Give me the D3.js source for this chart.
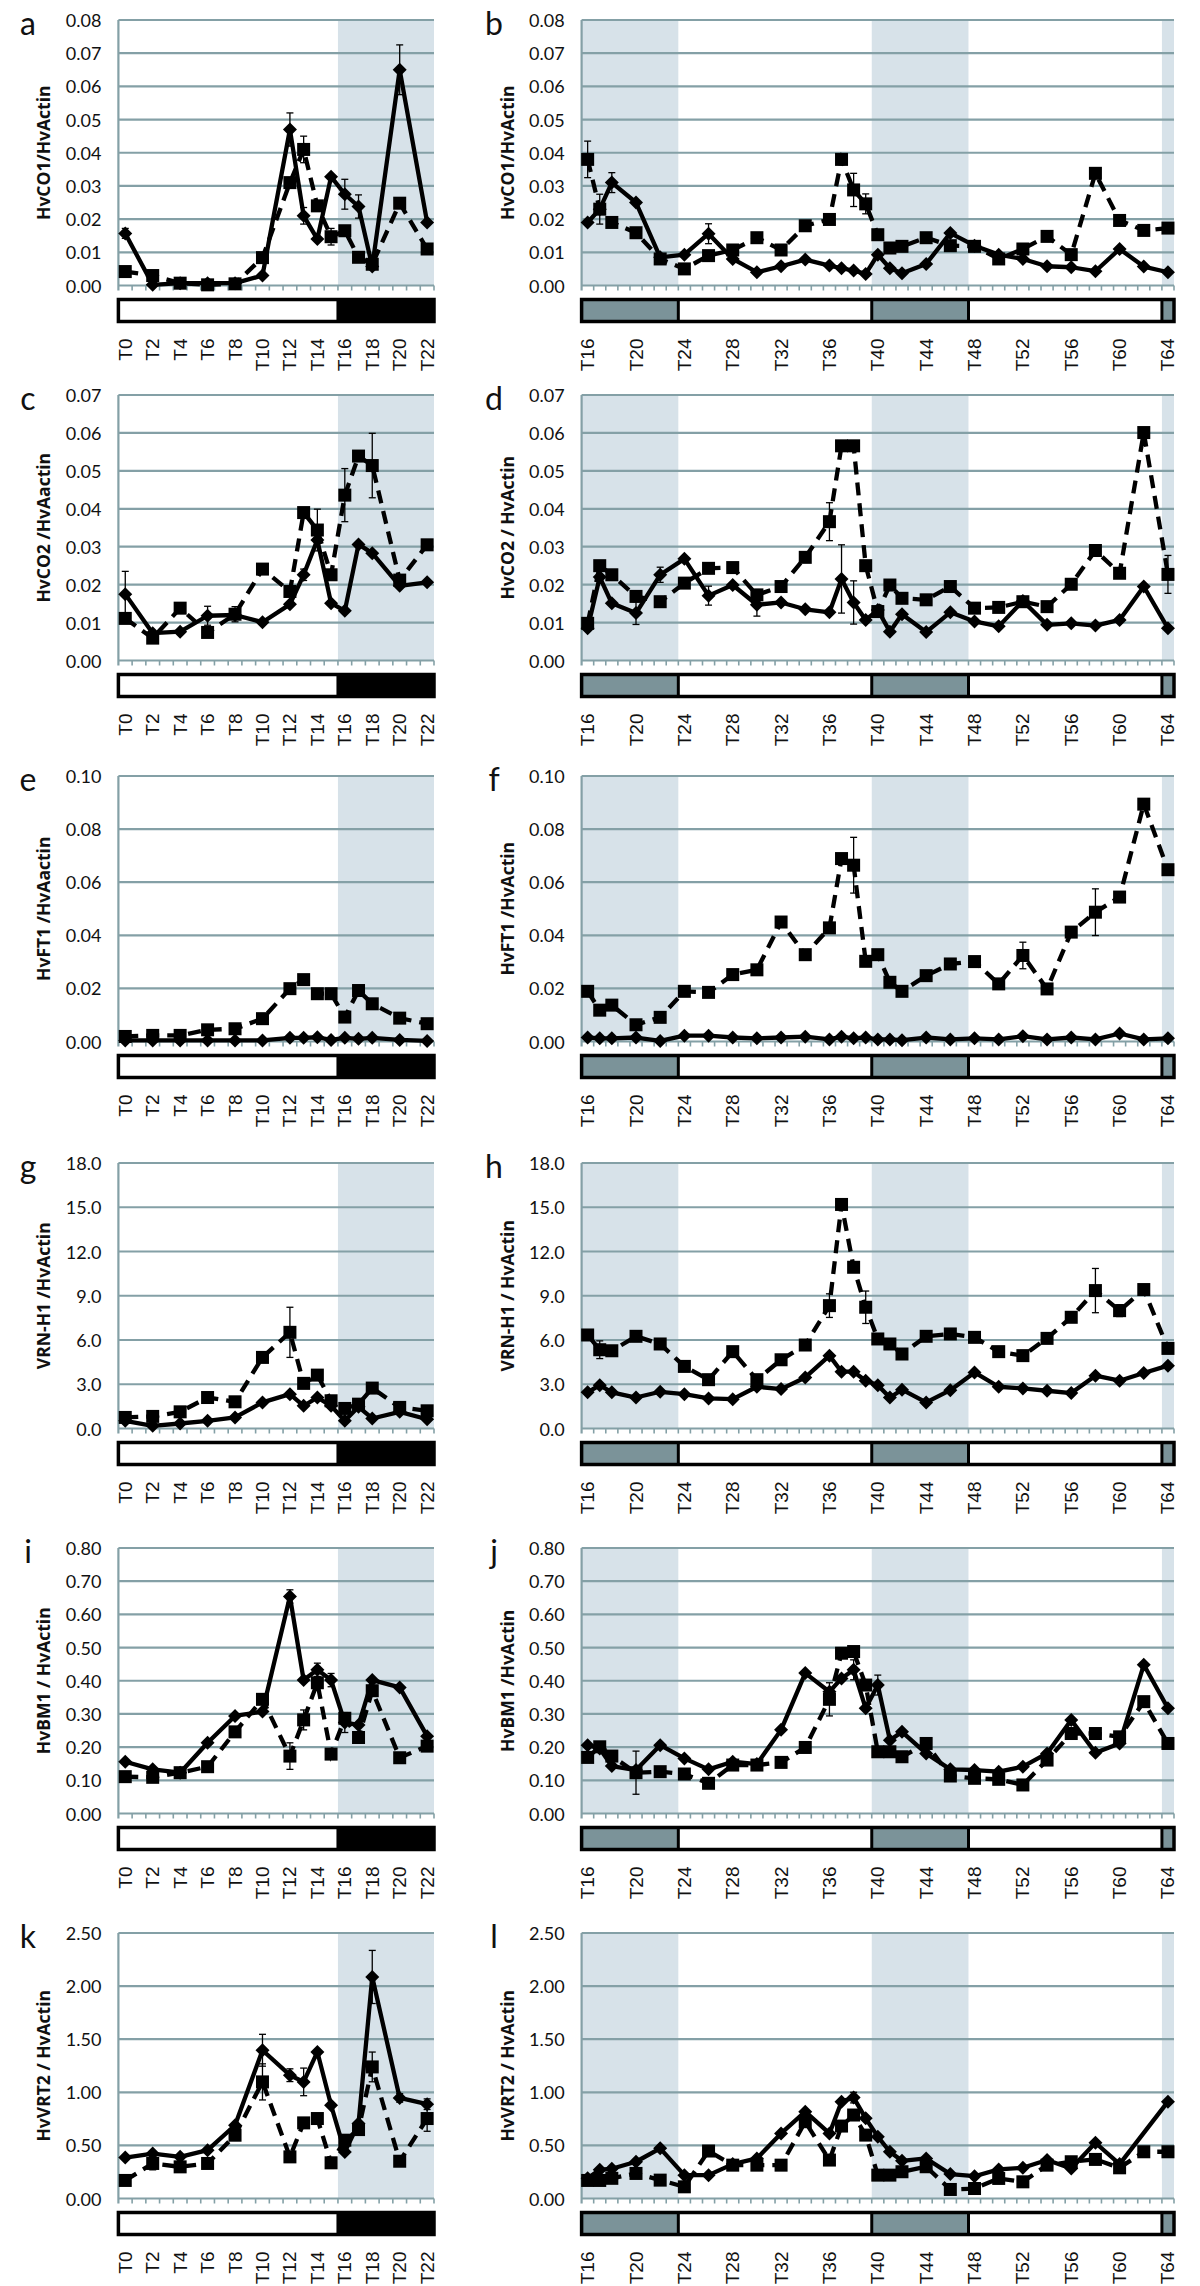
<!DOCTYPE html>
<html><head><meta charset="utf-8">
<script src="https://cdn.jsdelivr.net/npm/d3@7/dist/d3.min.js"></script>
<style>body{margin:0;background:#fff}svg{display:block}</style>
</head><body><svg id="c" width="1200" height="2286"></svg>
<script>
// ---------- DATA ----------
const hoursL = [0,2,4,6,8,10,12,13,14,15,16,17,18,20,22];
const hoursR = [16,17,18,20,22,24,26,28,30,32,34,36,37,38,39,40,41,42,44,46,48,50,52,54,56,58,60,62,64];
const tickLabelsL = ["T0","T2","T4","T6","T8","T10","T12","T14","T16","T18","T20","T22"];
const tickLabelsR = ["T16","T20","T24","T28","T32","T36","T40","T44","T48","T52","T56","T60","T64"];
const darkL = [[15.5,22.5]];
const darkR = [[15.5,23.5],[39.5,47.5],[63.5,64.5]];

const aSolid  = [0.0157,0.0002,0.0007,0.0007,0.0007,0.003,0.047,0.021,0.014,0.0328,0.0275,0.0238,0.0057,0.065,0.019];
const aDashed = [0.0042,0.003,0.0007,0.0002,0.0005,0.0084,0.031,0.041,0.024,0.0147,0.0165,0.0085,0.0064,0.0248,0.011];
const aSolidErr  = [0.0015,null,null,null,null,null,0.005,0.0025,null,null,0.0045,0.0035,null,0.0075,null];
const aDashedErr = [null,null,null,null,null,null,null,0.004,null,0.0025,null,null,null,null,null];

const bSolid  = [0.019,0.023,0.031,0.025,0.0085,0.0093,0.0156,0.008,0.004,0.0058,0.0078,0.006,0.0052,0.0045,0.0035,0.0093,0.0052,0.0037,0.0065,0.0158,0.012,0.0093,0.008,0.0058,0.0055,0.0043,0.011,0.0057,0.004];
const bDashed = [0.038,0.023,0.019,0.0159,0.008,0.005,0.009,0.0107,0.0144,0.0107,0.018,0.0199,0.038,0.0288,0.0246,0.0153,0.0113,0.0118,0.0144,0.012,0.0118,0.008,0.011,0.0148,0.0093,0.0338,0.0196,0.0166,0.0173];
const bSolidErr  = [null,null,0.003,null,null,null,0.003,null,null,null,null,null,null,null,null,null,null,null,null,null,null,null,null,null,null,null,null,null,null];
const bDashedErr = [0.0055,0.0045,null,null,null,null,null,null,null,null,null,null,null,0.005,0.003,null,null,null,null,null,null,null,null,0.0015,null,null,null,null,null];

const cSolid  = [0.0175,0.0072,0.0076,0.0118,0.012,0.0101,0.0148,0.0226,0.0318,0.0151,0.0131,0.0306,0.0283,0.0197,0.0206];
const cDashed = [0.0111,0.0059,0.0138,0.0074,0.0122,0.0241,0.0182,0.039,0.0344,0.0226,0.0436,0.0539,0.0514,0.0212,0.0305];
const cSolidErr  = [0.006,null,null,0.0025,null,null,null,0.0015,null,null,null,null,null,null,null];
const cDashedErr = [null,null,null,null,0.002,null,null,null,0.0055,null,0.007,null,0.0085,null,null];

const dSolid  = [0.0085,0.022,0.0151,0.0125,0.0226,0.0268,0.0171,0.0199,0.0147,0.0153,0.0135,0.0127,0.0215,0.0153,0.0107,0.0133,0.0076,0.0122,0.0075,0.0127,0.0103,0.009,0.0157,0.0094,0.0098,0.0092,0.0107,0.0195,0.0085];
const dDashed = [0.0098,0.025,0.0226,0.0169,0.0155,0.0204,0.0243,0.0245,0.0173,0.0195,0.0272,0.0366,0.0566,0.0566,0.025,0.0129,0.0199,0.0164,0.016,0.0195,0.0138,0.014,0.0155,0.0142,0.0201,0.029,0.023,0.0601,0.0227];
const dSolidErr  = [null,null,null,0.003,0.002,null,0.0025,null,0.003,null,null,null,0.009,0.0057,null,null,null,null,null,null,null,null,null,null,null,null,null,null,null];
const dDashedErr = [null,null,null,null,null,null,null,null,null,null,null,0.005,null,null,null,null,null,null,null,null,null,null,null,null,null,null,null,null,0.005];

const eSolid  = [0.0004,0.0004,0.0004,0.0004,0.0004,0.0004,0.0014,0.0014,0.0016,0.0006,0.0014,0.001,0.0014,0.0006,0.0002];
const eDashed = [0.0019,0.0023,0.0023,0.0044,0.0048,0.0086,0.0199,0.0233,0.018,0.018,0.0092,0.0192,0.0142,0.0088,0.0067];
const eSolidErr  = [null,null,null,null,null,null,null,null,null,null,null,null,null,null,null];
const eDashedErr = [null,null,null,null,null,null,null,null,0.0015,null,null,null,null,null,null];

const fSolid  = [0.0015,0.0012,0.0012,0.0015,0.0002,0.0022,0.0022,0.0015,0.0012,0.0015,0.0018,0.0008,0.0018,0.0012,0.0015,0.0008,0.0008,0.0005,0.0015,0.0008,0.0012,0.0008,0.002,0.0008,0.0015,0.0008,0.003,0.0008,0.0012];
const fDashed = [0.0189,0.0118,0.0137,0.0063,0.0091,0.0189,0.0185,0.0252,0.027,0.045,0.0327,0.0428,0.0689,0.0664,0.0302,0.0327,0.0223,0.0189,0.0248,0.0292,0.0301,0.0217,0.0324,0.0198,0.0412,0.0487,0.0544,0.0894,0.0647];
const fSolidErr  = [null,null,null,null,null,null,null,null,null,null,null,null,null,null,null,null,null,null,null,null,null,null,null,null,null,null,null,null,null];
const fDashedErr = [null,null,null,null,null,null,null,0.0015,null,null,null,null,null,0.0105,null,null,null,null,null,null,null,null,0.005,null,null,0.0088,null,0.002,null];

const gSolid  = [0.52,0.18,0.34,0.52,0.75,1.77,2.33,1.54,2.1,1.54,0.52,1.47,0.68,1.13,0.63];
const gDashed = [0.75,0.82,1.13,2.1,1.81,4.82,6.52,3.06,3.62,1.88,1.36,1.65,2.74,1.43,1.2];
const gSolidErr  = [null,null,null,null,null,null,null,null,null,null,null,null,null,null,null];
const gDashedErr = [null,null,null,null,null,null,1.7,null,null,null,null,null,null,null,null];

const hSolid  = [2.45,2.94,2.45,2.1,2.49,2.33,2.04,1.99,2.83,2.67,3.46,4.94,3.85,3.85,3.24,2.94,2.1,2.63,1.77,2.6,3.8,2.83,2.72,2.56,2.4,3.58,3.24,3.76,4.26];
const hDashed = [6.34,5.34,5.27,6.25,5.73,4.21,3.31,5.21,3.31,4.66,5.66,8.33,15.19,10.93,8.22,6.07,5.73,5.05,6.25,6.41,6.18,5.21,4.94,6.11,7.54,9.35,7.99,9.42,5.43];
const hSolidErr  = [null,null,null,null,null,null,null,null,null,null,null,null,null,null,null,null,null,null,null,null,null,null,null,null,null,null,null,null,null];
const hDashedErr = [null,0.6,null,null,null,null,null,null,null,null,null,0.8,null,null,1.1,null,null,null,null,null,null,null,null,null,null,1.5,0.4,null,null];

const iSolid  = [0.156,0.133,0.123,0.213,0.294,0.307,0.654,0.402,0.433,0.402,0.274,0.267,0.402,0.38,0.233];
const iDashed = [0.111,0.109,0.123,0.141,0.246,0.344,0.173,0.282,0.394,0.179,0.287,0.229,0.37,0.168,0.203];
const iSolidErr  = [null,null,null,null,null,null,0.02,null,0.02,0.02,0.03,null,null,null,null];
const iDashedErr = [null,null,null,null,null,null,0.04,0.03,null,null,null,null,null,null,null];

const jSolid  = [0.206,0.196,0.143,0.131,0.206,0.166,0.133,0.156,0.149,0.252,0.423,0.367,0.407,0.433,0.317,0.387,0.221,0.246,0.181,0.133,0.131,0.126,0.141,0.181,0.282,0.183,0.211,0.448,0.317];
const jDashed = [0.169,0.201,0.173,0.123,0.126,0.119,0.091,0.146,0.146,0.154,0.199,0.344,0.483,0.488,0.387,0.186,0.186,0.171,0.211,0.113,0.106,0.103,0.086,0.161,0.241,0.241,0.231,0.337,0.211];
const jSolidErr  = [null,null,null,null,null,null,null,null,null,null,null,null,null,0.03,null,0.03,null,null,null,null,null,null,null,null,null,null,null,null,null];
const jDashedErr = [null,null,null,0.065,null,null,null,null,null,null,null,0.05,null,null,null,null,null,null,null,null,null,null,null,null,null,null,null,null,null];

const kSolid  = [0.386,0.423,0.392,0.455,0.69,1.396,1.161,1.098,1.38,0.878,0.439,0.706,2.086,0.947,0.888];
const kDashed = [0.17,0.33,0.298,0.33,0.596,1.098,0.392,0.712,0.753,0.336,0.549,0.649,1.239,0.351,0.753];
const kSolidErr  = [null,null,null,null,null,0.15,0.06,0.13,null,null,null,null,0.25,0.04,0.05];
const kDashedErr = [null,0.06,null,null,null,0.17,null,null,null,null,null,null,0.14,null,0.12];

const lSolid  = [0.19,0.27,0.28,0.346,0.472,0.22,0.22,0.324,0.377,0.613,0.818,0.613,0.912,0.95,0.755,0.582,0.44,0.355,0.377,0.23,0.21,0.274,0.289,0.362,0.283,0.525,0.324,null,0.912];
const lDashed = [0.17,0.17,0.19,0.236,0.173,0.11,0.447,0.314,0.314,0.314,0.723,0.362,0.682,0.786,0.597,0.22,0.22,0.252,0.299,0.085,0.094,0.189,0.157,0.314,0.346,0.368,0.289,0.44,0.44];
const lSolidErr  = [null,null,null,null,null,null,null,null,null,null,null,null,null,0.05,null,null,null,null,null,null,null,null,null,null,null,null,null,null,null];
const lDashedErr = [null,null,null,null,null,null,null,null,null,null,null,null,null,null,null,null,null,null,null,null,null,null,null,null,null,null,null,null,null];

const panels = [
 {letter:"a",col:"L",row:0,yMax:0.08,yStep:0.01,dec:2,title:"HvCO1/HvActin",solid:aSolid,dashed:aDashed,se:aSolidErr,de:aDashedErr},
 {letter:"b",col:"R",row:0,yMax:0.08,yStep:0.01,dec:2,title:"HvCO1/HvActin",solid:bSolid,dashed:bDashed,se:bSolidErr,de:bDashedErr},
 {letter:"c",col:"L",row:1,yMax:0.07,yStep:0.01,dec:2,title:"HvCO2 /HvAactin",solid:cSolid,dashed:cDashed,se:cSolidErr,de:cDashedErr},
 {letter:"d",col:"R",row:1,yMax:0.07,yStep:0.01,dec:2,title:"HvCO2 / HvActin",solid:dSolid,dashed:dDashed,se:dSolidErr,de:dDashedErr},
 {letter:"e",col:"L",row:2,yMax:0.10,yStep:0.02,dec:2,title:"HvFT1 /HvAactin",solid:eSolid,dashed:eDashed,se:eSolidErr,de:eDashedErr},
 {letter:"f",col:"R",row:2,yMax:0.10,yStep:0.02,dec:2,title:"HvFT1 /HvActin",solid:fSolid,dashed:fDashed,se:fSolidErr,de:fDashedErr},
 {letter:"g",col:"L",row:3,yMax:18,yStep:3,dec:1,title:"VRN-H1 /HvActin",solid:gSolid,dashed:gDashed,se:gSolidErr,de:gDashedErr},
 {letter:"h",col:"R",row:3,yMax:18,yStep:3,dec:1,title:"VRN-H1 / HvActin",solid:hSolid,dashed:hDashed,se:hSolidErr,de:hDashedErr},
 {letter:"i",col:"L",row:4,yMax:0.8,yStep:0.1,dec:2,title:"HvBM1 / HvActin",solid:iSolid,dashed:iDashed,se:iSolidErr,de:iDashedErr},
 {letter:"j",col:"R",row:4,yMax:0.8,yStep:0.1,dec:2,title:"HvBM1 /HvActin",solid:jSolid,dashed:jDashed,se:jSolidErr,de:jDashedErr},
 {letter:"k",col:"L",row:5,yMax:2.5,yStep:0.5,dec:2,title:"HvVRT2 / HvActin",solid:kSolid,dashed:kDashed,se:kSolidErr,de:kDashedErr},
 {letter:"l",col:"R",row:5,yMax:2.5,yStep:0.5,dec:2,title:"HvVRT2 / HvActin",solid:lSolid,dashed:lDashed,se:lSolidErr,de:lDashedErr}
];

// ---------- LAYOUT / STYLE ----------
const COLS = {L:{x0:118.4,x1:434,domain:[-0.5,22.5]}, R:{x0:581.6,x1:1174,domain:[15.5,64.5]}};
const rowTops = [20,395,776,1163,1548,1933];
const PH = 265.5;
const SHADE = "#d7e2e9", GRID = "#84a0a6", GRAYBAR = "#7b9399";
const svg = d3.select("#c");

function drawPanel(p){
  const isL = p.col === "L";
  const C = COLS[p.col];
  const hours = isL ? hoursL : hoursR;
  const dark = isL ? darkL : darkR;
  const labels = isL ? tickLabelsL : tickLabelsR;
  const top = rowTops[p.row], bottom = top + PH;
  const x = d3.scaleLinear().domain(C.domain).range([C.x0, C.x1]);
  const y = d3.scaleLinear().domain([0, p.yMax]).range([bottom, top]);
  const g = svg.append("g");

  g.selectAll("rect.sh").data(dark).join("rect")
    .attr("x", d => x(d[0])).attr("width", d => x(d[1]) - x(d[0]))
    .attr("y", top).attr("height", PH).attr("fill", SHADE);

  const ticks = d3.range(0, p.yMax + p.yStep/2, p.yStep);
  g.selectAll("line.gr").data(ticks).join("line")
    .attr("x1", C.x0).attr("x2", C.x1)
    .attr("y1", d => y(d)).attr("y2", d => y(d))
    .attr("stroke", GRID).attr("stroke-width", 2.2);
  g.append("line").attr("x1", C.x0).attr("x2", C.x0).attr("y1", top).attr("y2", bottom + 5)
    .attr("stroke", GRID).attr("stroke-width", 2.2);
  const edges = d3.range(C.domain[0] + 1, C.domain[1] + 0.01, 1);
  g.selectAll("line.mt").data(edges).join("line")
    .attr("x1", d => x(d)).attr("x2", d => x(d))
    .attr("y1", bottom).attr("y2", bottom + 5)
    .attr("stroke", GRID).attr("stroke-width", 1.6);

  g.selectAll("text.yt").data(ticks).join("text")
    .attr("x", C.x0 - 17).attr("y", d => y(d))
    .attr("text-anchor", "end").attr("dominant-baseline", "central")
    .attr("font-family", "Lato, 'Open Sans', sans-serif").attr("font-size", 18)
    .attr("fill", "#111").text(d => d.toFixed(p.dec));

  g.append("text")
    .attr("transform", `translate(${C.x0 - 75},${(top + bottom) / 2}) rotate(-90)`)
    .attr("text-anchor", "middle").attr("dominant-baseline", "central")
    .attr("font-family", "'Open Sans', sans-serif").attr("font-weight", "bold")
    .attr("font-size", 17.5).attr("fill", "#111").text(p.title);

  g.append("text").attr("x", isL ? 28 : 494).attr("y", top + 2)
    .attr("text-anchor", "middle").attr("dominant-baseline", "central")
    .attr("font-family", "Lato, 'Open Sans', sans-serif").attr("font-size", 32)
    .attr("fill", "#111").text(p.letter);

  const barY = bottom + 14, barH = 22;
  const segs = [];
  let cur = C.domain[0];
  dark.forEach(dk => { if (dk[0] > cur) segs.push({a:cur,b:dk[0],dark:false}); segs.push({a:dk[0],b:dk[1],dark:true}); cur = dk[1]; });
  if (cur < C.domain[1]) segs.push({a:cur,b:C.domain[1],dark:false});
  g.selectAll("rect.seg").data(segs).join("rect")
    .attr("x", d => x(d.a)).attr("width", d => x(d.b) - x(d.a))
    .attr("y", barY).attr("height", barH)
    .attr("fill", d => d.dark ? (isL ? "#000" : GRAYBAR) : "#fff");
  g.selectAll("line.div").data(segs.slice(1)).join("line")
    .attr("x1", d => x(d.a)).attr("x2", d => x(d.a))
    .attr("y1", barY).attr("y2", barY + barH)
    .attr("stroke", "#000").attr("stroke-width", 3);
  g.append("rect").attr("x", C.x0).attr("y", barY).attr("width", C.x1 - C.x0).attr("height", barH)
    .attr("fill", "none").attr("stroke", "#000").attr("stroke-width", 3.5);

  g.selectAll("text.xt").data(labels).join("text")
    .attr("transform", d => `translate(${x(+d.slice(1))},${bottom + 53}) rotate(-90)`)
    .attr("text-anchor", "end").attr("dominant-baseline", "central")
    .attr("font-family", "'Liberation Sans', Arial, sans-serif").attr("font-size", 19)
    .attr("fill", "#111").text(d => d);

  const mk = (vals, errs) => hours.map((h, i) => ({h, v: vals[i], e: errs[i]})).filter(d => d.v !== null);
  const sData = mk(p.solid, p.se), dData = mk(p.dashed, p.de);
  const line = d3.line().x(d => x(d.h)).y(d => y(d.v));

  const drawErr = (data) => {
    data.filter(d => d.e !== null && d.e !== undefined).forEach(d => {
      const xx = x(d.h), y1 = y(d.v + d.e), y2 = y(Math.max(0, d.v - d.e));
      g.append("line").attr("x1", xx).attr("x2", xx).attr("y1", y1).attr("y2", y2).attr("stroke", "#000").attr("stroke-width", 1.3);
      [y1, y2].forEach(yy => g.append("line").attr("x1", xx - 3.5).attr("x2", xx + 3.5).attr("y1", yy).attr("y2", yy).attr("stroke", "#000").attr("stroke-width", 1.3));
    });
  };

  g.append("path").datum(sData).attr("d", line).attr("fill", "none")
    .attr("stroke", "#000").attr("stroke-width", 4.3).attr("stroke-linejoin", "round");
  g.append("path").datum(dData).attr("d", line).attr("fill", "none")
    .attr("stroke", "#000").attr("stroke-width", 4.3).attr("stroke-dasharray", "13,8");
  drawErr(sData);
  drawErr(dData);
  const dsz = 7;
  g.selectAll("path.dm").data(sData).join("path")
    .attr("d", d => { const cx = x(d.h), cy = y(d.v); return `M${cx},${cy-dsz}L${cx+dsz},${cy}L${cx},${cy+dsz}L${cx-dsz},${cy}Z`; })
    .attr("fill", "#000");
  const ssz = 13;
  g.selectAll("rect.sq").data(dData).join("rect")
    .attr("x", d => x(d.h) - ssz/2).attr("y", d => y(d.v) - ssz/2)
    .attr("width", ssz).attr("height", ssz).attr("fill", "#000");
}
panels.forEach(drawPanel);
</script>
</body></html>
